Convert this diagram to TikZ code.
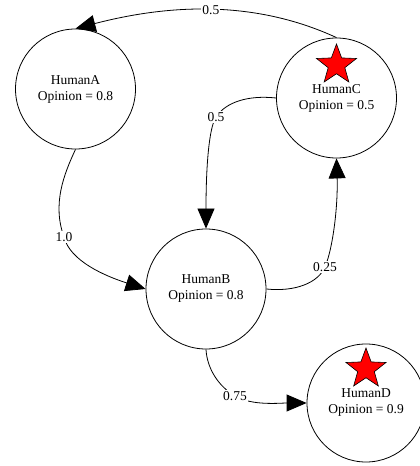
\documentclass[tikz,border=0pt]{standalone}
\usepackage{fontspec}
\setmainfont{Liberation Serif}
\usetikzlibrary{arrows.meta,shapes.geometric,positioning,calc}

\begin{document}
\begin{tikzpicture}
    [x=1pt, y=1pt,
      human/.style={circle, draw, line width=0.8pt, minimum size=120pt, inner sep=0pt, align=center, font=\fontsize{13.5}{16}\selectfont},
      redstar/.style={star, star points=5, star point ratio=2.4, draw, fill=red, minimum size=42pt, inner sep=0pt, line width=0.6pt},
      link/.style={draw, line width=0.8pt, -{Triangle[length=20pt, width=17pt]}},
      wlabel/.style={fill=white, inner sep=1pt, font=\fontsize{13.5}{16}\selectfont},
    ]
    \useasboundingbox (0,0) rectangle (420,466);
    \node [human] (humanA) at (75.5,377) {HumanA\\Opinion = 0.8};
    \node [human] (humanC) at (336.5,368) {HumanC\\Opinion = 0.5};
    \node [human] (humanB) at (206,177) {HumanB\\Opinion = 0.8};
    \node [human, minimum size=118pt] (humanD) at (366,63) {HumanD\\Opinion = 0.9};
    \node [redstar] (starC) at ($(humanC.center)+(0,33)$) {};
    \node [redstar] (starD) at ($(humanD.center)+(0,34)$) {};
    \draw [link] (humanC.north) .. controls (255,466) and (170,462) .. (humanA.north)
      node [wlabel, pos=0.5] (wCA) {0.5};
    \draw [link] (humanC.west) .. controls (248,371) and (226,364) .. (216,349)
      node [wlabel] (wCB) {0.5}
      .. controls (209,338) and (206,300) .. (humanB.north);
    \draw [link] (humanA.south) .. controls (64,292) and (52,262) .. (64,229)
      node [wlabel] (wAB) {1.0}
      .. controls (70,205) and (105,190) .. (humanB.west);
    \draw [link] (humanB.east) .. controls (295,174) and (318,183) .. (325,199)
      node [wlabel] (wBC) {0.25}
      .. controls (333,218) and (338,260) .. (humanC.south);
    \draw [link] (humanB.south) .. controls (207,98) and (218,80) .. (235,70)
      node [wlabel] (wBD) {0.75}
      .. controls (252,60) and (280,63) .. (humanD.west);
  \end{tikzpicture}
\end{document}
